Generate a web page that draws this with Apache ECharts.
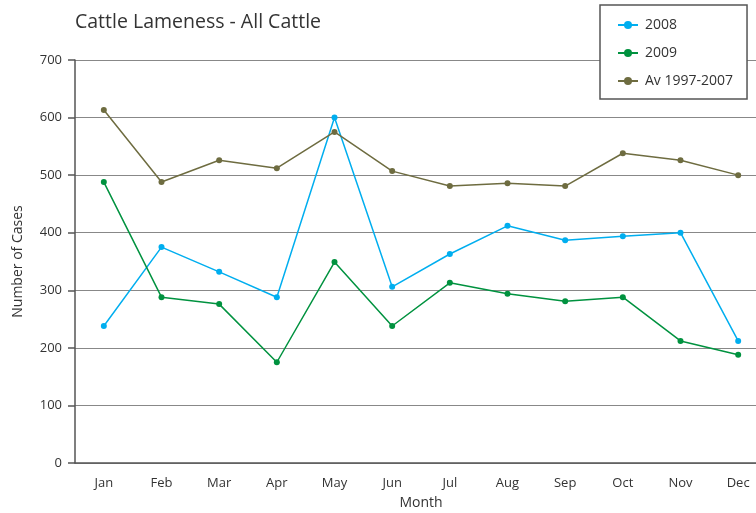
<!DOCTYPE html>
<html>
<head>
<meta charset="utf-8">
<script src="https://cdn.jsdelivr.net/npm/echarts@6/dist/echarts.min.js"></script>
<style>
  html, body { margin: 0; padding: 0; background: #fff; overflow: hidden; }
  /* the plot runs past the right edge of the picture, so the canvas is wider than the window */
  #main { width: 768px; height: 513px; }
</style>
</head>
<body>
<div id="main"></div>
<script>
// data
const months = ['Jan', 'Feb', 'Mar', 'Apr', 'May', 'Jun', 'Jul', 'Aug', 'Sep', 'Oct', 'Nov', 'Dec'];
const cases2008 = [238, 375, 332, 288, 600, 306, 363, 412, 387, 394, 400, 212];
const cases2009 = [488, 288, 276, 175, 349, 238, 313, 294, 281, 288, 212, 188];
const casesAvg = [613, 488, 526, 512, 575, 507, 481, 486, 481, 538, 526, 500];
const seriesNames = ['2008', '2009', 'Av 1997-2007'];

const font = 'Open Sans';

function lineSeries(name, data, color) {
    return {
        name: name,
        type: 'line',
        data: data,
        symbol: 'circle',
        symbolSize: 6,
        lineStyle: { width: 1.5, color: color },
        itemStyle: { color: color },
        emphasis: { disabled: true }
    };
}

let chart = echarts.init(document.getElementById('main'));
chart.setOption({
    animation: false,
    textStyle: { fontFamily: font },
    title: {
        text: 'Cattle Lameness - All Cattle',
        left: 70,
        top: 7,
        textStyle: { fontFamily: font, fontSize: 19.5, fontWeight: 'normal', color: '#333' }
    },
    legend: {
        data: seriesNames,
        orient: 'vertical',
        left: 600,
        top: 5,
        padding: [13, 14, 11, 17],
        itemGap: 14,
        itemWidth: 20,
        itemHeight: 10,
        borderColor: '#555',
        borderWidth: 1.5,
        backgroundColor: '#fff',
        textStyle: { fontFamily: font, fontSize: 14, color: '#333', padding: [0, 0, 0, 2] }
    },
    grid: { left: 75, right: 1, top: 60, bottom: 50, outerBoundsMode: 'none' },
    xAxis: {
        type: 'category',
        data: months,
        name: 'Month',
        nameLocation: 'middle',
        nameGap: 33,
        nameTextStyle: { fontFamily: font, fontSize: 14, color: '#333' },
        axisLine: { lineStyle: { color: '#555', width: 1.5 } },
        axisTick: { length: 6, lineStyle: { color: '#555', width: 1.5 } },
        axisLabel: { fontSize: 13, color: '#333', margin: 14 }
    },
    yAxis: {
        type: 'value',
        min: 0,
        max: 700,
        interval: 100,
        name: 'Number of Cases',
        nameLocation: 'middle',
        nameGap: 50,
        nameTextStyle: { fontFamily: font, fontSize: 14, color: '#333' },
        axisLine: { show: true, lineStyle: { color: '#555', width: 1.5 } },
        axisTick: { show: true, length: 7, lineStyle: { color: '#555', width: 1.5 } },
        axisLabel: { fontSize: 13, color: '#333', margin: 13, padding: [0, 0, 8, 0] },
        splitLine: { lineStyle: { color: '#888', width: 1.2 } }
    },
    series: [
        lineSeries(seriesNames[0], cases2008, '#00aeef'),
        lineSeries(seriesNames[1], cases2009, '#00923f'),
        lineSeries(seriesNames[2], casesAvg, '#6e6c40')
    ]
});
</script>
</body>
</html>
